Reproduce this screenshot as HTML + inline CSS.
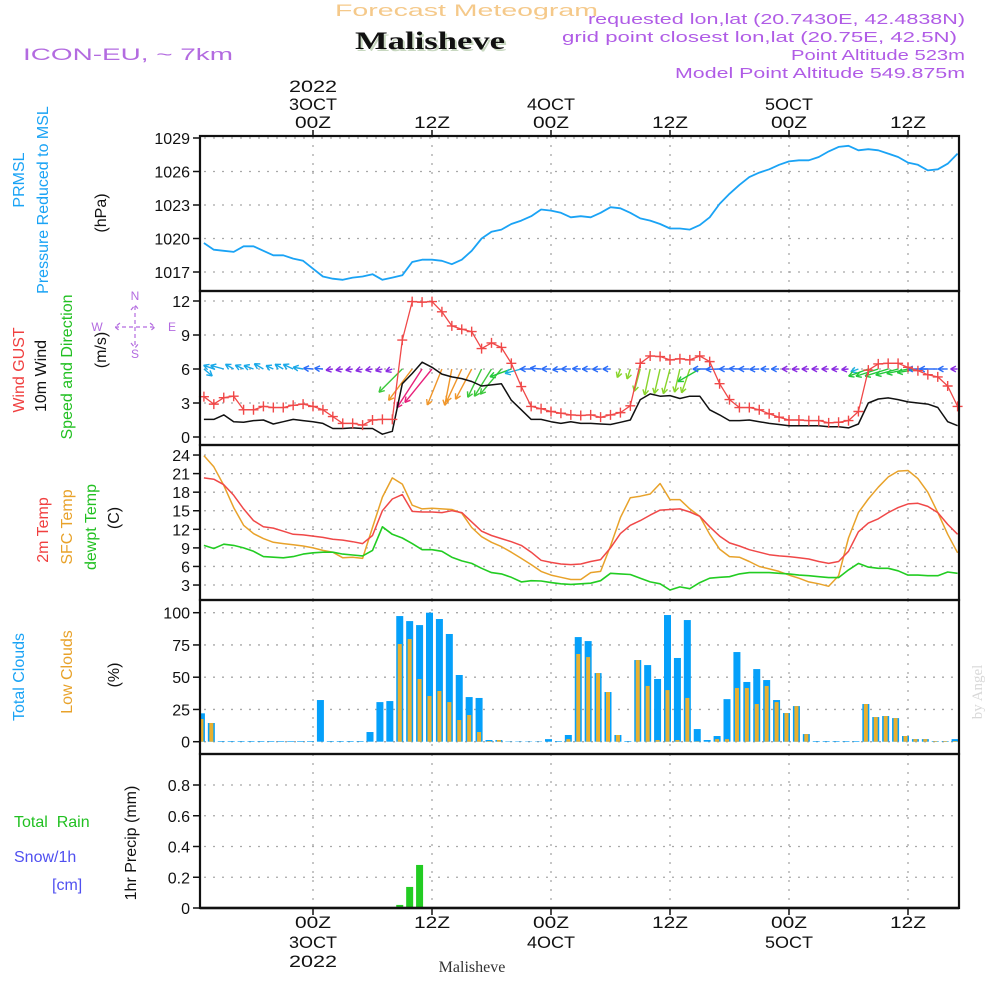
<!DOCTYPE html>
<html><head><meta charset="utf-8"><title>Forecast Meteogram Malisheve</title>
<style>
html,body{margin:0;padding:0;background:#fff;}
svg{display:block;font-family:"Liberation Sans",sans-serif;}
.tk{font-size:16px;fill:#111;}
.tl{font-size:17px;fill:#111;}
</style></head>
<body>
<svg id="chart" width="1000" height="1000" viewBox="0 0 1000 1000">
<rect x="0" y="0" width="1000" height="1000" fill="#fff"/>
<text x="335" y="16" font-size="17" fill="#f5c98a" textLength="263" lengthAdjust="spacingAndGlyphs">Forecast Meteogram</text>
<text x="357" y="51" font-size="25" font-weight="bold" fill="#c8d8c0" font-family="Liberation Serif, serif" textLength="150" lengthAdjust="spacingAndGlyphs">Malisheve</text>
<text x="355" y="49" font-size="25" font-weight="bold" fill="#111" font-family="Liberation Serif, serif" textLength="150" lengthAdjust="spacingAndGlyphs">Malisheve</text>
<text x="23" y="60" font-size="17" fill="#b36be0" textLength="210" lengthAdjust="spacingAndGlyphs">ICON-EU, ~ 7km</text>
<g font-size="15" fill="#b05ce6" text-anchor="end">
<text x="965" y="24" textLength="377" lengthAdjust="spacingAndGlyphs">requested lon,lat (20.7430E, 42.4838N)</text>
<text x="957" y="42" textLength="395" lengthAdjust="spacingAndGlyphs">grid point closest lon,lat (20.75E, 42.5N)</text>
<text x="965" y="60" textLength="174" lengthAdjust="spacingAndGlyphs">Point Altitude 523m</text>
<text x="965" y="78" textLength="290" lengthAdjust="spacingAndGlyphs">Model Point Altitude 549.875m</text>
</g>
<g font-size="16">
<text transform="translate(24,180) rotate(-90)" text-anchor="middle" fill="#1aa3f5">PRMSL</text>
<text transform="translate(48,200) rotate(-90)" text-anchor="middle" fill="#1aa3f5">Pressure Reduced to MSL</text>
<text transform="translate(106,213) rotate(-90)" text-anchor="middle" fill="#111">(hPa)</text>
<text transform="translate(24,370) rotate(-90)" text-anchor="middle" fill="#f04040">Wind GUST</text>
<text transform="translate(46,376) rotate(-90)" text-anchor="middle" fill="#111">10m Wind</text>
<text transform="translate(72,367) rotate(-90)" text-anchor="middle" fill="#22c022">Speed and Direction</text>
<text transform="translate(106,350) rotate(-90)" text-anchor="middle" fill="#111">(m/s)</text>
<text transform="translate(48,530) rotate(-90)" text-anchor="middle" fill="#f04040">2m Temp</text>
<text transform="translate(72,527) rotate(-90)" text-anchor="middle" fill="#e8a22a">SFC Temp</text>
<text transform="translate(96,527) rotate(-90)" text-anchor="middle" fill="#22c022">dewpt Temp</text>
<text transform="translate(119,518) rotate(-90)" text-anchor="middle" fill="#111">(C)</text>
<text transform="translate(24,677) rotate(-90)" text-anchor="middle" fill="#1aa3f5">Total Clouds</text>
<text transform="translate(72,672) rotate(-90)" text-anchor="middle" fill="#e8a22a">Low Clouds</text>
<text transform="translate(119,675) rotate(-90)" text-anchor="middle" fill="#111">(%)</text>
<text transform="translate(136,843) rotate(-90)" text-anchor="middle" fill="#111">1hr Precip (mm)</text>
<text x="14" y="827" fill="#22c022" xml:space="preserve">Total  Rain</text>
<text x="14" y="862" fill="#5050f0">Snow/1h</text>
<text x="52" y="890" fill="#5050f0">[cm]</text>
</g>
<g font-size="12" fill="#b36be0">
<text x="135" y="300" text-anchor="middle">N</text>
<text x="135" y="358" text-anchor="middle">S</text>
<text x="97" y="331" text-anchor="middle">W</text>
<text x="172" y="331" text-anchor="middle">E</text>
<g stroke="#b36be0" stroke-width="1.2" fill="none">
<path d="M115,327 H155 M135,306 V346 M120,323 L115,327 L120,331 M150,323 L155,327 L150,331 M131,310 L135,305 L139,310 M131,343 L135,348 L139,343" stroke-dasharray="4,3"/>
</g>
</g>
<text transform="translate(982,692) rotate(-90)" text-anchor="middle" font-size="15" fill="#d8d8d8" font-family="Liberation Serif, serif">by Angel</text>
<text x="472" y="972" text-anchor="middle" font-size="16" fill="#333" font-family="Liberation Serif, serif">Malisheve</text>
<g id="plot"></g>
</svg>
<script>
// ---- data (hourly, first hour = -11 relative to 00Z 3 OCT 2022) ----
const startHour = -11;
const pressure = [1019.6,1019.0,1018.9,1018.8,1019.3,1019.3,1018.9,1018.5,1018.5,1018.2,1018.0,
1017.3,1016.6,1016.4,1016.3,1016.5,1016.6,1016.8,1016.3,1016.5,1016.7,1017.9,1018.1,
1018.1,1018.0,1017.7,1018.1,1018.9,1020.0,1020.6,1020.8,1021.3,1021.6,1022.0,1022.6,
1022.5,1022.3,1021.9,1022.0,1021.9,1022.3,1022.8,1022.7,1022.3,1021.8,1021.6,1021.3,
1020.9,1020.9,1020.8,1021.2,1021.9,1023.1,1024.0,1024.8,1025.5,1025.9,1026.2,1026.6,
1026.9,1027.0,1027.0,1027.3,1027.8,1028.2,1028.3,1027.9,1028.0,1027.9,1027.6,1027.3,
1026.8,1026.6,1026.1,1026.2,1026.7,1027.6];
const gust = [3.56,2.9,3.47,3.6,2.4,2.4,2.7,2.6,2.6,2.8,2.9,
2.7,2.4,1.8,1.2,1.2,1.05,1.5,1.55,1.55,8.55,11.95,11.9,
11.95,11.05,9.8,9.5,9.3,7.8,8.3,7.9,6.5,4.45,2.7,2.5,
2.25,2.1,1.95,1.9,1.95,1.75,1.95,2.15,2.75,6.5,7.15,7.1,
6.8,6.9,6.8,7.15,6.65,4.7,3.3,2.6,2.6,2.4,2.05,1.75,
1.5,1.5,1.45,1.45,1.25,1.3,1.45,2.25,5.9,6.45,6.5,6.5,
6.15,5.85,5.5,5.3,4.5,2.7];
const windSpeed = [1.55,1.55,1.95,1.35,1.3,1.45,1.5,1.15,1.35,1.55,1.45,
1.35,1.2,0.75,0.75,0.8,0.75,0.75,0.25,0.5,4.7,5.6,6.6,
6.15,5.55,5.3,5.15,4.9,4.5,4.6,4.7,3.25,2.4,1.55,1.55,
1.35,1.2,1.35,1.2,1.2,1.15,1.1,1.3,1.5,3.3,3.8,3.6,
3.65,3.4,3.6,3.6,2.4,1.95,1.45,1.45,1.5,1.35,1.2,1.1,
1.0,1.0,1.0,1.0,0.9,0.9,0.8,1.15,3.0,3.35,3.45,3.3,
3.1,3.0,2.9,2.6,1.35,1.0];
const windDir = [310,110,105,120,115,110,120,115,120,115,100,
95,95,80,80,80,75,80,75,70,45,37,33,
39,22,11,25,28,26,32,40,70,75,90,95,
90,85,90,92,90,88,90,20,18,15,12,13,
15,13,19,60,90,88,90,92,90,88,90,90,
90,88,90,90,90,88,85,70,70,72,73,75,
78,80,90,90,90,90];
const temp2m = [20.3,20.1,19.2,17.5,15.3,13.4,12.4,12.2,11.7,11.2,11.1,
10.9,10.7,10.4,10.25,10.0,9.7,11.0,15.0,16.9,17.6,14.9,14.8,
14.8,14.7,15.0,14.7,13.2,11.7,11.0,10.5,10.0,9.4,8.3,7.0,
6.65,6.4,6.3,6.4,6.8,7.1,9.0,11.3,12.65,13.4,14.3,15.1,
15.2,15.3,14.8,14.1,12.4,10.9,9.8,9.3,8.7,8.3,7.9,7.7,
7.6,7.4,7.2,6.8,6.5,6.8,8.45,11.6,13.0,13.7,14.7,15.5,
16.1,16.2,15.7,14.7,12.8,11.2];
const sfcTemp = [23.9,22.1,19.1,15.5,12.65,11.3,10.5,9.9,9.7,9.5,9.3,
9.0,8.6,8.3,7.4,7.5,7.3,12.3,17.2,20.3,19.3,15.9,15.3,
15.4,15.3,15.2,14.6,12.3,10.8,9.9,9.2,8.3,7.3,6.3,5.2,
4.6,4.25,3.9,3.9,5.0,5.2,9.3,13.9,17.1,17.35,17.7,19.4,
16.8,16.8,15.3,14.1,11.2,8.8,7.6,7.5,6.8,6.0,5.6,5.2,
4.6,4.1,3.5,3.2,2.8,4.5,10.6,14.7,16.9,18.8,20.45,21.4,
21.5,20.2,18.0,14.7,11.2,8.2];
const dewpt = [9.4,8.9,9.6,9.4,9.0,8.45,7.6,7.5,7.4,7.6,8.0,
8.2,8.3,8.3,8.0,7.85,7.7,8.6,12.4,11.2,10.6,9.7,8.7,
8.7,8.45,7.5,6.9,6.5,5.7,5.0,4.8,4.25,3.5,3.7,3.65,
3.4,3.2,3.1,3.2,3.3,3.7,4.9,4.8,4.7,4.1,3.5,3.2,
2.2,2.7,2.4,3.4,4.1,4.25,4.35,4.8,5.0,5.0,5.0,4.9,
4.8,4.6,4.5,4.35,4.2,4.2,5.45,6.5,5.9,5.7,5.7,5.3,
4.6,4.6,4.5,4.5,5.1,4.9];
const totalClouds = [22,14.5,0.5,0.5,0.5,0.5,0.5,0.5,0.5,0.5,0.5,
0.5,32.3,0.5,0.5,0.5,0.5,7.5,30.7,31.5,97.4,93.5,90.4,
100,95.1,83.5,51.7,34.6,33.9,1.3,1.3,0.3,0.3,0.3,0.3,
2,0.5,5.2,81.1,78,53.2,38.5,5.2,0.5,63.3,59.4,48.6,
98.2,64.9,94.3,9.8,1.3,4.4,33,69.5,46.3,56.3,47.8,32.3,
22.2,27.6,5.9,0.5,0.5,0.5,0.5,0.5,29.2,19.1,19.9,18.3,
4.4,2,2,0.5,0.5,2];
const lowClouds = [17.6,14.5,0,0,0,0,0,0,0,0,0,
0,0,0,0,0,0,0,0,0,75.7,79.6,48.6,
35.4,39.3,30.7,16.8,20.7,7.5,0.5,1.3,0,0,0,0,
0,0,2,68,65.6,53.2,38.5,5.2,0,63.3,43.2,1.3,
40,1.3,33.9,0.3,0,2,2,41.6,41.6,29.2,43.2,30.7,
22.2,27.6,5.9,0,0,0,0,0,29.2,19.1,19.9,18.3,
4.4,2,2,0.5,0.5,0.5];
const precip = [0,0,0,0,0,0,0,0,0,0,0,
0,0,0,0,0,0,0,0,0,0.02,0.137,0.28,
0,0,0,0,0,0,0,0,0,0,0,0,
0,0,0,0,0,0,0,0,0,0,0,0,
0,0,0,0,0,0,0,0,0,0,0,0,
0,0,0,0,0,0,0,0,0,0,0,0,
0,0,0,0,0,0];
const pressureTicks = [1017,1020,1023,1026,1029];
const windTicks = [0,3,6,9,12];
const tempTicks = [3,6,9,12,15,18,21,24];
const cloudTicks = [0,25,50,75,100];
const precipTicks = [0,0.2,0.4,0.6,0.8];
const timeTickHours = [0,12,24,36,48,60];
const timeTickHour = ["00Z","12Z","00Z","12Z","00Z","12Z"];
const timeTickDay = ["3OCT","","4OCT","","5OCT",""];
const timeTickYear = ["2022","","","","",""];

// ---- axes ----
const X0=200, X1=959;
const xOf = h => 313 + h*119/12;
const yP = v => 272 - (v-1017)*134/12;
const yW = v => 437 - v*136/12;
const yT = v => 603.6 - v*130/21;
const yC = v => 741.7 - v*1.29;
const yR = v => 908 - v*153.75;
const panels = [[136,291],[291,445],[445,600],[600,754],[754,908]];

const NS="http://www.w3.org/2000/svg";
const plot=document.getElementById('plot');
function mk(tag, attrs, parent){const e=document.createElementNS(NS,tag);for(const k in attrs)e.setAttribute(k,attrs[k]);(parent||plot).appendChild(e);return e;}
const hourOf = i => startHour + i;

// grids
const grid = mk('g',{stroke:'#a8a8a8','stroke-width':1.3,'stroke-dasharray':'2,7',fill:'none'});


timeTickHours.forEach(h=>{
  panels.forEach(p=>{
    const l=mk('line',{x1:xOf(h),x2:xOf(h),y1:p[0],y2:p[1]},grid);
    
    
  });
});
function hgrid(ticks, yf, name){
  ticks.forEach(t=>{
    const l=mk('line',{x1:X0+4,x2:X1,y1:yf(t),y2:yf(t)},grid);
    
    
  });
}
hgrid(pressureTicks,yP,'pressure');hgrid(windTicks,yW,'wind');hgrid(tempTicks,yT,'temp');hgrid(cloudTicks,yC,'cloud');hgrid(precipTicks.slice(1),yR,'precip');

// y tick labels + tick marks
function yaxis(ticks, yf, name, fmt){
  const g=mk('g',{});
  
  
  ticks.forEach(t=>{
    const tm=mk('line',{x1:X0-7,x2:X0,y1:yf(t),y2:yf(t),stroke:'#111','stroke-width':1.5},g);
    
    
    const tx=mk('text',{x:X0-10,y:yf(t)+6,'text-anchor':'end','class':'tk'},g);
    tx.textContent=fmt?fmt(t):String(t);
    
    
  });
}
yaxis(pressureTicks,yP,'pressure');yaxis(windTicks,yW,'wind');yaxis(tempTicks,yT,'temp');yaxis(cloudTicks,yC,'cloud');
yaxis(precipTicks,yR,'precip',t=>t===0?'0':t.toFixed(1));

// x tick labels top and bottom
const xl=mk('g',{'class':'tl'});


timeTickHours.forEach((h,i)=>{
  const x=xOf(h);
  [[130,136],[908,915]].forEach(seg=>{
    const t=mk('line',{x1:x,x2:x,y1:seg[0],y2:seg[1],stroke:'#111','stroke-width':1.5},xl);
    
    
  });
  const rows=[[timeTickHour[i],128,928],[timeTickDay[i],110,948],[timeTickYear[i],92,967]];
  rows.forEach(r=>{
    if(!r[0])return;
    [r[1],r[2]].forEach(yy=>{
      const tx=mk('text',{x:x,y:yy,'text-anchor':'middle',textLength:r[0].length===3?36:48,lengthAdjust:'spacingAndGlyphs'},xl);
      tx.textContent=r[0];
      
      
    });
  });
});

// series helper
function line(arr, yf, color, name, w){
  const pts=arr.map((v,i)=>xOf(hourOf(i)).toFixed(1)+','+yf(v).toFixed(1)).join(' ');
  const p=mk('polyline',{points:pts,fill:'none',stroke:color,'stroke-width':w||1.5,'stroke-linejoin':'round'});
  
  
  return p;
}

// pressure
line(pressure,yP,'#1aa3f5','pressure-line',1.8);

// wind arrows
const arrows=mk('g',{'stroke-width':1.4,fill:'none'});


function arrowColor(d,s){
  if(d>=100) return '#18a8e8';
  if(d>=55){ if(s<1.05) return '#8a2be2'; if(d<=80 && s>=2.6) return '#22c83a'; if(d<=80) return '#1cb0e0'; return '#2a6cf8'; }
  if(s>=5.8) return '#e8207a';
  if(s>=4.8) return '#f0962a';
  if(d<25 && s<4.2) return '#88d42a';
  return '#3cc83c';
}
windDir.forEach((d,i)=>{
  const s=windSpeed[i];
  const x=xOf(hourOf(i)), y=yW(6);
  const L=Math.max(7,s*7);
  const rad=d*Math.PI/180;
  const ux=-Math.sin(rad), uy=Math.cos(rad);
  const hx=x+ux*L, hy=y+uy*L;
  const c=arrowColor(d,s);
  const a=mk('g',{stroke:c},arrows);
  
  
  mk('line',{x1:x,y1:y,x2:hx,y2:hy},a);
  const ang=Math.atan2(uy,ux);
  [0.5,-0.5].forEach(o=>{
    mk('line',{x1:hx,y1:hy,x2:hx-6*Math.cos(ang+o),y2:hy-6*Math.sin(ang+o)},a);
  });
});

// speed & gust
line(windSpeed,yW,'#111','wind-speed-line',1.5);
line(gust,yW,'#f04848','wind-gust-line',1.3);
const gm=mk('g',{stroke:'#f04848','stroke-width':1.4});


gust.forEach((v,i)=>{
  const x=xOf(hourOf(i)), y=yW(v);
  const m=mk('path',{d:`M${x-5},${y}H${x+5}M${x},${y-5}V${y+5}`},gm);
  
  
});

// temperatures
line(sfcTemp,yT,'#e8a22a','sfc-temp-line',1.5);
line(temp2m,yT,'#f04848','temp-2m-line',1.5);
line(dewpt,yT,'#22cc22','dewpt-line',1.6);

// clouds
const cg=mk('g',{});


totalClouds.forEach((v,i)=>{
  const xc=xOf(hourOf(i))-2.5;
  const x=Math.max(X0+1,xc-3.5), w=Math.min(xc+3.5,X1)-x;
  if(w<=0)return;
  const b=mk('rect',{x:x,y:yC(v),width:w,height:yC(0)-yC(v),fill:'#05a0fa'},cg);
  
  
  const lv=lowClouds[i];
  if(lv>0){
    const x2=Math.max(X0+1,xc-2), w2=Math.min(xc+2,X1)-x2;
    const o=mk('rect',{x:x2,y:yC(lv),width:w2,height:yC(0)-yC(lv),fill:'#e8b030'},cg);
    
    
  }
});

// precip
const pg=mk('g',{});


precip.forEach((v,i)=>{
  if(v<=0)return;
  const xc=xOf(hourOf(i))-2.5;
  const b=mk('rect',{x:xc-3.5,y:yR(v),width:7,height:yR(0)-yR(v),fill:'#22cc22'},pg);
  
  
});

// frames
const fr=mk('g',{fill:'none',stroke:'#111'});


panels.forEach((p,k)=>{
  const r=mk('rect',{x:X0,y:p[0],width:X1-X0,height:p[1]-p[0],'stroke-width':2.2},fr);
  
  
});
const bl=mk('line',{x1:X0,x2:X1,y1:908,y2:908,stroke:'#111','stroke-width':2.5},fr);


</script>
</body></html>
